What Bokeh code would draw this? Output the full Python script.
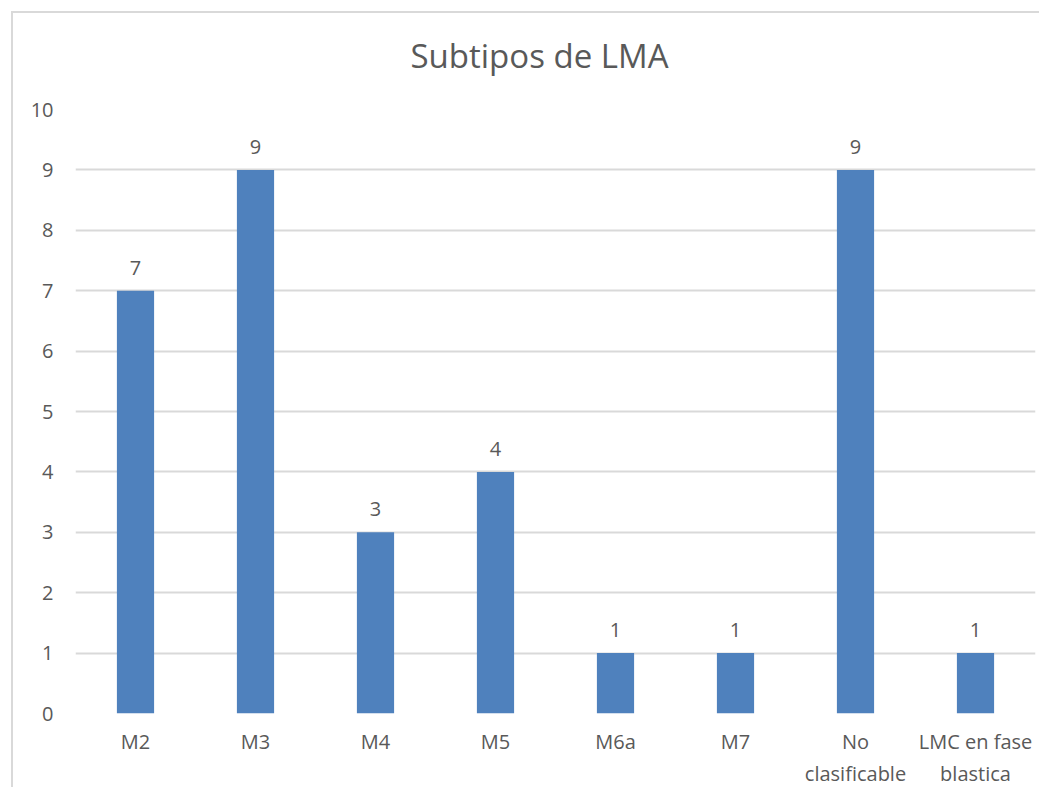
from bokeh.plotting import figure
from bokeh.models import ColumnDataSource, LabelSet, FixedTicker, Title
from bokeh.core.properties import value
from bokeh.embed import file_html
from bokeh.resources import INLINE

# Data
categories = ["M2", "M3", "M4", "M5", "M6a", "M7", "No clasificable", "LMC en fase blastica"]
tick_labels = ["M2", "M3", "M4", "M5", "M6a", "M7", "No\nclasificable", "LMC en fase\nblastica"]
counts = [7, 9, 3, 4, 1, 1, 9, 1]
y_ticks = [0, 1, 2, 3, 4, 5, 6, 7, 8, 9, 10]
title_text = "Subtipos de LMA"

TEXT = "#595959"
GRID = "#d9d9d9"
BAR = "#4f81bd"
FONT = "Open Sans"

source = ColumnDataSource(dict(cat=tick_labels, count=counts, label=[str(c) for c in counts]))

p = figure(x_range=tick_labels, y_range=(0, 10), width=1028, height=776,
           output_backend="svg", toolbar_location=None,
           min_border_left=62, min_border_right=6, min_border_top=96, min_border_bottom=60)
p.margin = (11, 0, 0, 11)
p.styles = {"border-left": f"2px solid {GRID}", "border-top": f"2px solid {GRID}"}

p.vbar(x="cat", top="count", width=0.31, source=source, color=BAR, line_color=None)

labels = LabelSet(x="cat", y="count", text="label", source=source, text_align="center",
                  text_baseline="bottom", y_offset=16, text_font=value(FONT),
                  text_font_size="20px", text_color=TEXT)
p.add_layout(labels)

p.title.text = title_text
p.title.align = "left"
p.title.offset = 335
p.title.text_font = FONT
p.title.text_font_size = "33px"
p.title.text_font_style = "normal"
p.title.text_color = TEXT
p.title.standoff = 0

# blank spacer between the title and the plot area
spacer = Title(text=" ", text_font_size="10px", standoff=19)
p.add_layout(spacer, "above")

p.outline_line_color = None
p.xgrid.grid_line_color = None
p.ygrid.grid_line_color = GRID
p.ygrid.grid_line_width = 2
p.yaxis.ticker = FixedTicker(ticks=y_ticks)

for ax in (p.xaxis, p.yaxis):
    ax.axis_line_color = None
    ax.major_tick_line_color = None
    ax.major_tick_out = 0
    ax.major_tick_in = 0
    ax.minor_tick_line_color = None
    ax.major_label_text_font = FONT
    ax.major_label_text_font_size = "20px"
    ax.major_label_text_color = TEXT
p.yaxis.major_label_standoff = 22
p.xaxis.major_label_standoff = 14

open("out.html", "w").write(file_html(p, INLINE))
